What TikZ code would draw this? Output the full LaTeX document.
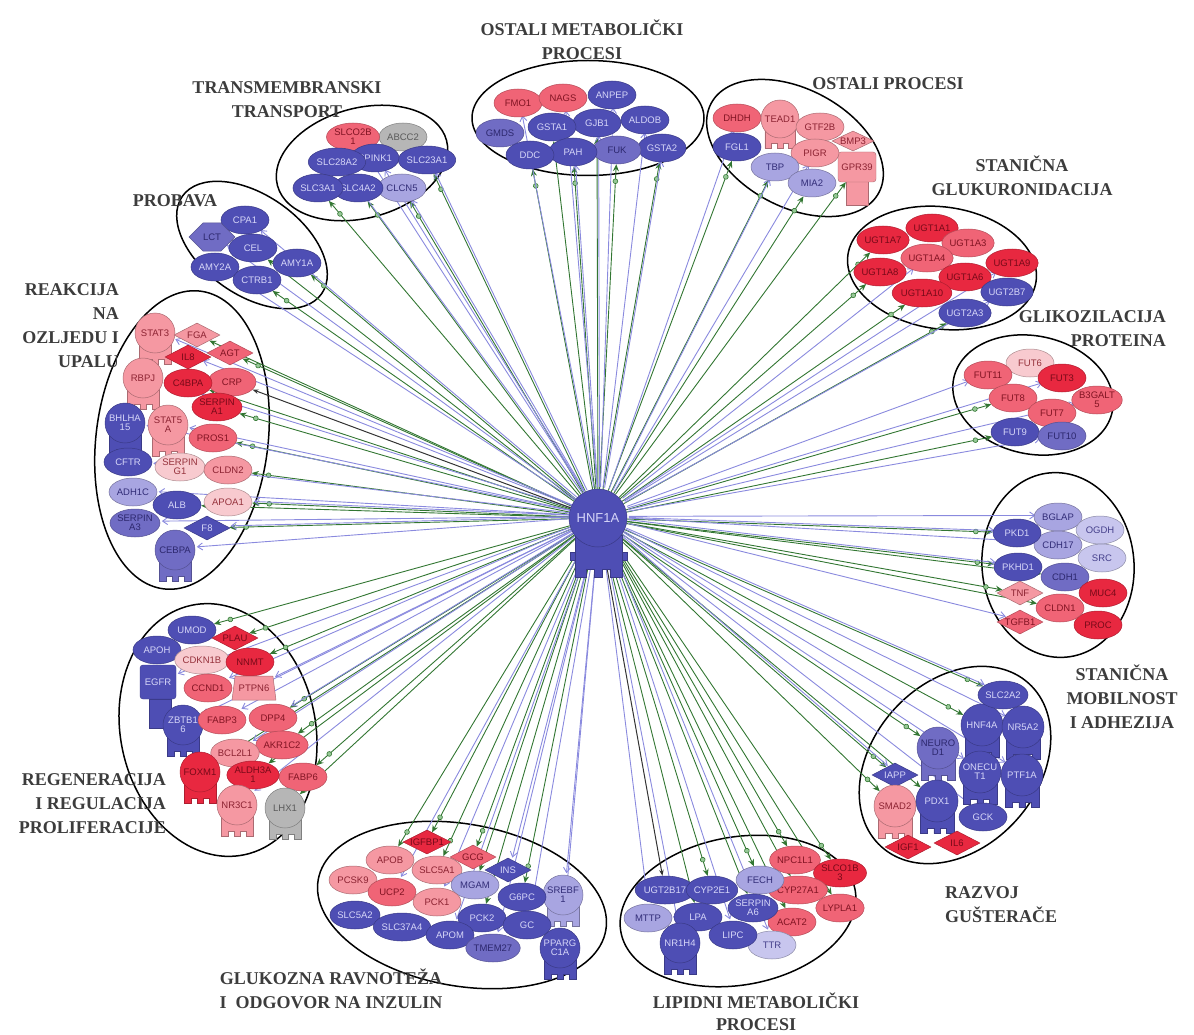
\documentclass[tikz,border=0pt]{standalone}
\usepackage{fontspec}
\setmainfont{Liberation Serif}
\setsansfont{Liberation Sans}
\usetikzlibrary{shapes.geometric, shapes.symbols, arrows.meta, decorations.markings}
\pgfdeclarelayer{background}
\pgfsetlayers{background,main}

\definecolor{cDk}{RGB}{78,78,180}
\definecolor{cDkT}{RGB}{214,214,248}
\definecolor{cMd}{RGB}{112,108,196}
\definecolor{cMdT}{RGB}{45,40,110}
\definecolor{cLv}{RGB}{168,165,225}
\definecolor{cLvT}{RGB}{50,45,120}
\definecolor{cLw}{RGB}{200,198,238}
\definecolor{cLwT}{RGB}{70,65,140}
\definecolor{cRd}{RGB}{232,40,64}
\definecolor{cRdT}{RGB}{120,10,25}
\definecolor{cSa}{RGB}{240,100,118}
\definecolor{cSaT}{RGB}{130,20,35}
\definecolor{cPk}{RGB}{245,152,162}
\definecolor{cPkT}{RGB}{140,35,50}
\definecolor{cLp}{RGB}{248,202,207}
\definecolor{cLpT}{RGB}{150,50,60}
\definecolor{cGy}{RGB}{182,182,182}
\definecolor{cGyT}{RGB}{90,90,90}
\definecolor{cGreen}{RGB}{50,118,50}
\definecolor{cGreenL}{RGB}{150,200,150}
\definecolor{cEdgeB}{RGB}{138,138,222}
\definecolor{cTitle}{RGB}{60,60,60}

\newcommand{\genefont}{\sffamily\fontsize{9.5}{9}\selectfont}
\tikzset{
  gene/.style={ellipse, minimum width=48, minimum height=28, inner sep=0pt,
    line width=0.5pt, font=\genefont, align=center},
  dia/.style={diamond, aspect=2.1, minimum width=46, minimum height=24,
    inner sep=0pt, line width=0.5pt, font=\genefont, align=center},
  tfhead/.style={circle, inner sep=0pt, line width=0.5pt, font=\genefont, align=center},
  dk/.style={fill=cDk, draw=cDk!75!black, text=cDkT},
  md/.style={fill=cMd, draw=cMd!75!black, text=cMdT},
  lv/.style={fill=cLv, draw=cLv!70!black, text=cLvT},
  lw/.style={fill=cLw, draw=cLw!70!black, text=cLwT},
  rd/.style={fill=cRd, draw=cRd!75!black, text=cRdT},
  sa/.style={fill=cSa, draw=cSa!75!black, text=cSaT},
  pk/.style={fill=cPk, draw=cPk!70!black, text=cPkT},
  lp/.style={fill=cLp, draw=cLp!70!black, text=cLpT},
  gy/.style={fill=cGy, draw=cGy!70!black, text=cGyT},
  cluster/.style={ellipse, draw=black, line width=1.5pt, inner sep=0pt},
  title/.style={font=\bfseries\fontsize{18}{24}\selectfont, text=cTitle,
    align=center, inner sep=0pt},
  gedge/.style={draw=cGreen, line width=0.9pt, -{Stealth[length=7pt,width=6pt]},
    postaction={decorate},
    decoration={markings, mark=at position -17pt with
      {\draw[cGreen, fill=cGreenL, line width=0.6pt] (0,0) circle (2.4pt);}}},
  bedge/.style={draw=cEdgeB, line width=0.9pt, -{Straight Barb[length=5pt,width=7pt]},
    transform canvas={shift={(1.6pt,1.6pt)}}},
  dedge/.style={draw=black!80, line width=1pt, -{Stealth[length=6pt]}}
}

% transcription regulator: round head with a notched foot
\newcommand{\tfgene}[5][20]{%
  \path[#4, shift={(#3)}] (-0.8*#1,0.4*#1) -- (-0.8*#1,1.55*#1) -- (-0.45*#1,1.55*#1)
    -- (-0.45*#1,1.3*#1) -- (-0.15*#1,1.3*#1) -- (-0.15*#1,1.55*#1) -- (0.15*#1,1.55*#1)
    -- (0.15*#1,1.3*#1) -- (0.45*#1,1.3*#1) -- (0.45*#1,1.55*#1) -- (0.8*#1,1.55*#1)
    -- (0.8*#1,0.4*#1) -- cycle;
  \node[tfhead, #4, minimum size=2*#1] (#2) at (#3) {#5};
}

\begin{document}
\begin{tikzpicture}[x=1pt, y=-1pt]
\useasboundingbox (0,0) rectangle (1194,1035);

% titles
\node[title] (t-tm) at (287,100) {TRANSMEMBRANSKI\\TRANSPORT};
\node[title] (t-om) at (582,40) {OSTALI METABOLIČKI\\PROCESI};
\node[title] (t-op) at (888,84) {OSTALI PROCESI};
\node[title] (t-gl) at (1022,176) {STANIČNA\\GLUKURONIDACIJA};
\node[title, align=right, anchor=east] (t-gp) at (1166,329) {GLIKOZILACIJA\\PROTEINA};
\node[title] (t-mob) at (1122,697) {STANIČNA\\MOBILNOST\\I ADHEZIJA};
\node[title, align=left, anchor=west] (t-raz) at (945,905) {RAZVOJ\\GUŠTERAČE};
\node[title, font=\bfseries\fontsize{18}{22}\selectfont] (t-lip) at (756,1012) {LIPIDNI METABOLIČKI\\PROCESI};
\node[title] (t-glu) at (331,989) {GLUKOZNA RAVNOTEŽA\\I\ \ ODGOVOR NA INZULIN};
\node[title, align=right, anchor=east] (t-reg) at (166,804) {REGENERACIJA\\I REGULACIJA\\PROLIFERACIJE};
\node[title, align=right, anchor=east] (t-rea) at (119,326) {REAKCIJA\\NA\\OZLJEDU I\\UPALU};
\node[title] (t-pro) at (175,201) {PROBAVA};

% hub
\path[dk] (575,535) -- (575,577) -- (586,577) -- (586,569) -- (594,569) -- (594,577)
  -- (602,577) -- (602,569) -- (610,569) -- (610,577) -- (622,577) -- (622,535) -- cycle;
\path[dk] (570,552) rectangle (575,560) (622,552) rectangle (627,560);
\node[tfhead, dk, minimum size=58, font=\sffamily\fontsize{13}{13}\selectfont] (hnf) at (598,518) {HNF1A};

% probava
\node[gene,dk] (CPA1) at (245,220) {CPA1};
\node[gene,md,signal,signal to=west and east,minimum width=44,minimum height=28] (LCT) at (212,237) {LCT};
\node[gene,dk] (AMY2A) at (215,267) {AMY2A};
\node[gene,dk] (AMY1A) at (297,263) {AMY1A};
\node[gene,dk] (CTRB1) at (257,280) {CTRB1};
\node[gene,dk] (CEL) at (253,248) {CEL};

% transmembranski transport
\node[gene,gy] (ABCC2) at (403,137) {ABCC2};
\node[gene,sa] (SLCO2B1) at (353,137) {SLCO2B\\1};
\node[gene,dk] (SLC23A1) at (427,160) {SLC23A1};
\node[gene,dk] (SPINK1) at (375,158) {SPINK1};
\node[gene,dk] (SLC28A2) at (337,162) {SLC28A2};
\node[gene,lv] (CLCN5) at (402,188) {CLCN5};
\node[gene,dk] (SLC4A2) at (358,188) {SLC4A2};
\node[gene,dk] (SLC3A1) at (318,188) {SLC3A1};

% ostali metabolicki procesi
\node[gene,sa] (FMO1) at (518,103) {FMO1};
\node[gene,sa] (NAGS) at (563,98) {NAGS};
\node[gene,dk] (ANPEP) at (612,95) {ANPEP};
\node[gene,dk] (ALDOB) at (645,120) {ALDOB};
\node[gene,dk] (GJB1) at (597,123) {GJB1};
\node[gene,dk] (GSTA1) at (552,127) {GSTA1};
\node[gene,md] (GMDS) at (500,133) {GMDS};
\node[gene,dk] (GSTA2) at (662,148) {GSTA2};
\node[gene,md] (FUK) at (617,150) {FUK};
\node[gene,dk] (PAH) at (573,152) {PAH};
\node[gene,dk] (DDC) at (530,155) {DDC};

% ostali procesi
\node[gene,sa] (DHDH) at (737,118) {DHDH};
\node[gene,dk] (FGL1) at (737,147) {FGL1};
\tfgene[19]{TEAD1}{780,119}{pk}{TEAD1}
\node[gene,pk] (GTF2B) at (820,127) {GTF2B};
\path[pk] (846,180) rectangle (868,205);
\node[pk, rectangle, rounded corners=3pt, minimum width=38, minimum height=30,
  inner sep=0pt, font=\genefont] (GPR39) at (857,167) {GPR39};
\node[dia, pk, minimum width=42, minimum height=20] (BMP3) at (853,141) {BMP3};
\node[gene,pk] (PIGR) at (815,153) {PIGR};
\node[gene,lv] (TBP) at (775,167) {TBP};
\node[gene,lv] (MIA2) at (812,183) {MIA2};

% stanicna glukuronidacija
\node[gene,rd] (UGT1A1) at (932,228) {UGT1A1};
\node[gene,rd] (UGT1A7) at (883,240) {UGT1A7};
\node[gene,sa] (UGT1A3) at (968,243) {UGT1A3};
\node[gene,rd] (UGT1A9) at (1012,263) {UGT1A9};
\node[gene,sa] (UGT1A4) at (927,258) {UGT1A4};
\node[gene,rd] (UGT1A8) at (880,272) {UGT1A8};
\node[gene,rd] (UGT1A6) at (965,277) {UGT1A6};
\node[gene,rd] (UGT1A10) at (922,293) {UGT1A10};
\node[gene,dk] (UGT2B7) at (1007,292) {UGT2B7};
\node[gene,dk] (UGT2A3) at (965,313) {UGT2A3};

% glikozilacija proteina
\node[gene,lp] (FUT6) at (1030,363) {FUT6};
\node[gene,sa] (FUT11) at (988,375) {FUT11};
\node[gene,rd] (FUT3) at (1062,378) {FUT3};
\node[gene,sa] (B3GALT5) at (1097,400) {B3GALT\\5};
\node[gene,sa] (FUT8) at (1013,398) {FUT8};
\node[gene,sa] (FUT7) at (1052,413) {FUT7};
\node[gene,dk] (FUT9) at (1015,432) {FUT9};
\node[gene,md] (FUT10) at (1062,436) {FUT10};

% stanicna mobilnost i adhezija
\node[gene,lv] (BGLAP) at (1058,517) {BGLAP};
\node[gene,lw] (OGDH) at (1100,530) {OGDH};
\node[gene,lv] (CDH17) at (1058,545) {CDH17};
\node[gene,dk] (PKD1) at (1017,533) {PKD1};
\node[gene,lw] (SRC) at (1102,558) {SRC};
\node[gene,md] (CDH1) at (1065,577) {CDH1};
\node[gene,dk] (PKHD1) at (1018,567) {PKHD1};
\node[dia,pk] (TNF) at (1020,593) {TNF};
\node[gene,rd] (MUC4) at (1103,593) {MUC4};
\node[gene,rd] (PROC) at (1098,625) {PROC};
\node[gene,sa] (CLDN1) at (1060,608) {CLDN1};
\node[dia,sa] (TGFB1) at (1020,622) {TGFB1};

% razvoj gusterace
\tfgene[21]{HNF4A}{982,725}{dk}{HNF4A}
\tfgene[21]{NR5A2}{1023,727}{dk}{NR5A2}
\node[gene,dk] (SLC2A2) at (1003,695) {SLC2A2};
\tfgene[21]{NEUROD1}{938,748}{md}{NEURO\\D1}
\tfgene[21]{ONECUT1}{980,772}{dk}{ONECU\\T1}
\tfgene[21]{PTF1A}{1022,775}{dk}{PTF1A}
\node[dia,dk] (IAPP) at (895,775) {IAPP};
\tfgene[21]{SMAD2}{895,806}{pk}{SMAD2}
\tfgene[21]{PDX1}{937,801}{dk}{PDX1}
\node[gene,dk] (GCK) at (983,817) {GCK};
\node[dia,rd] (IGF1) at (908,847) {IGF1};
\node[dia,rd] (IL6) at (957,843) {IL6};

% lipidni metabolicki procesi
\node[gene,sa] (NPC1L1) at (795,860) {NPC1L1};
\node[gene,rd] (SLCO1B3) at (840,873) {SLCO1B\\3};
\node[gene,sa] (CYP27A1) at (798,890) {CYP27A1};
\node[gene,sa] (LYPLA1) at (840,908) {LYPLA1};
\node[gene,sa] (ACAT2) at (792,922) {ACAT2};
\node[gene,lv] (FECH) at (760,880) {FECH};
\node[gene,dk] (UGT2B17) at (665,890) {UGT2B17};
\node[gene,dk] (CYP2E1) at (712,890) {CYP2E1};
\node[gene,dk] (SERPINA6) at (753,908) {SERPIN\\A6};
\node[gene,lv] (MTTP) at (648,918) {MTTP};
\node[gene,dk] (LPA) at (698,917) {LPA};
\node[gene,lw] (TTR) at (772,945) {TTR};
\node[gene,dk] (LIPC) at (733,935) {LIPC};
\tfgene{NR1H4}{680,943}{dk}{NR1H4}

% glukozna ravnoteza i odgovor na inzulin
\node[dia,rd] (IGFBP1) at (427,842) {IGFBP1};
\node[gene,pk] (APOB) at (390,860) {APOB};
\node[dia,sa] (GCG) at (473,857) {GCG};
\node[gene,pk] (PCSK9) at (353,880) {PCSK9};
\node[gene,pk] (SLC5A1) at (437,870) {SLC5A1};
\node[dia,dk] (INS) at (508,870) {INS};
\node[gene,sa] (UCP2) at (392,892) {UCP2};
\node[gene,lv] (MGAM) at (475,885) {MGAM};
\tfgene{SREBF1}{563,895}{lv}{SREBF\\1}
\node[gene,dk] (G6PC) at (522,897) {G6PC};
\node[gene,pk] (PCK1) at (437,902) {PCK1};
\node[gene,dk] (SLC5A2) at (355,915) {SLC5A2};
\node[gene,dk] (SLC37A4) at (402,927) {SLC37A4};
\node[gene,dk] (PCK2) at (482,918) {PCK2};
\node[gene,dk] (GC) at (527,925) {GC};
\node[gene,dk] (APOM) at (450,935) {APOM};
\node[gene,md] (TMEM27) at (493,948) {TMEM27};
\tfgene{PPARGC1A}{560,948}{dk}{PPARG\\C1A}

% regeneracija i regulacija proliferacije
\node[gene,dk] (UMOD) at (192,630) {UMOD};
\node[gene,dk] (APOH) at (157,650) {APOH};
\path[dk] (149,699) rectangle (171,728);
\node[dk, rectangle, rounded corners=3pt, minimum width=36, minimum height=34,
  inner sep=0pt, font=\genefont] (EGFR) at (158,682) {EGFR};
\node[gene,lp] (CDKN1B) at (202,660) {CDKN1B};
\node[dia,rd] (PLAU) at (235,638) {PLAU};
\node[gene,rd] (NNMT) at (250,662) {NNMT};
\node[gene,sa] (CCND1) at (208,688) {CCND1};
\node[pk, trapezium, trapezium angle=70, trapezium stretches=true, minimum width=44,
  minimum height=24, inner sep=0pt, line width=0.5pt, font=\genefont] (PTPN6) at (254,688) {PTPN6};
\tfgene{ZBTB16}{183,725}{dk}{ZBTB1\\6}
\node[gene,sa] (DPP4) at (273,718) {DPP4};
\node[gene,sa] (FABP3) at (222,720) {FABP3};
\node[gene,sa] (AKR1C2) at (282,745) {AKR1C2};
\node[gene,pk] (BCL2L1) at (235,753) {BCL2L1};
\tfgene{FOXM1}{200,772}{rd}{FOXM1}
\node[gene,sa] (FABP6) at (303,777) {FABP6};
\node[gene,rd] (ALDH3A1) at (253,775) {ALDH3A\\1};
\tfgene{NR3C1}{237,805}{pk}{NR3C1}
\tfgene{LHX1}{285,808}{gy}{LHX1}

% reakcija na ozljedu i upalu
\tfgene{STAT3}{155,333}{pk}{STAT3}
\node[dia,pk] (FGA) at (197,335) {FGA};
\node[dia,sa] (AGT) at (230,353) {AGT};
\node[dia,rd] (IL8) at (188,357) {IL8};
\tfgene{RBPJ}{143,378}{pk}{RBPJ}
\node[gene,sa] (CRP) at (232,382) {CRP};
\node[gene,rd] (C4BPA) at (188,383) {C4BPA};
\node[gene,rd] (SERPINA1) at (217,407) {SERPIN\\A1};
\tfgene{BHLHA15}{125,423}{dk}{BHLHA\\15}
\tfgene{STAT5A}{168,425}{pk}{STAT5\\A}
\node[gene,sa] (PROS1) at (213,438) {PROS1};
\node[gene,dk] (CFTR) at (128,462) {CFTR};
\node[gene,lp] (SERPING1) at (180,467) {SERPIN\\G1};
\node[gene,pk] (CLDN2) at (228,470) {CLDN2};
\node[gene,lv] (ADH1C) at (133,492) {ADH1C};
\node[gene,lp] (APOA1) at (228,502) {APOA1};
\node[gene,dk] (ALB) at (177,505) {ALB};
\node[gene,md] (SERPINA3) at (135,523) {SERPIN\\A3};
\node[dia,dk] (F8) at (207,528) {F8};
\tfgene{CEBPA}{175,550}{md}{CEBPA}

\begin{pgfonlayer}{background}
  % cluster outlines
  \node[cluster, minimum width=175, minimum height=110, rotate=15] (cl-tm) at (362,163) {};
  \node[cluster, minimum width=232, minimum height=115] (cl-om) at (588,118) {};
  \node[cluster, minimum width=190, minimum height=118, rotate=-28] (cl-op) at (795,148) {};
  \node[cluster, minimum width=190, minimum height=122, rotate=-8] (cl-gl) at (942,268) {};
  \node[cluster, minimum width=162, minimum height=118, rotate=-12] (cl-gp) at (1033,395) {};
  \node[cluster, minimum width=185, minimum height=152, rotate=95] (cl-mob) at (1058,565) {};
  \node[cluster, minimum width=220, minimum height=165, rotate=48] (cl-raz) at (955,765) {};
  \node[cluster, minimum width=238, minimum height=148, rotate=10] (cl-lip) at (738,911) {};
  \node[cluster, minimum width=292, minimum height=162, rotate=-10] (cl-glu) at (462,905) {};
  \node[cluster, minimum width=255, minimum height=195, rotate=102] (cl-reg) at (218,730) {};
  \node[cluster, minimum width=300, minimum height=172, rotate=83] (cl-rea) at (182,440) {};
  \node[cluster, minimum width=170, minimum height=100, rotate=-35] (cl-pro) at (252,245) {};
  % regulation edges
  \foreach \g in {SLC3A1,SLC4A2,CLCN5,SLC23A1,DDC,PAH,FUK,GSTA2,GSTA1,GJB1,FGL1,TBP,MIA2,GPR39,
      UGT1A8,UGT1A10,UGT2A3,UGT1A7,FUT8,FUT9,PKD1,PKHD1,TNF,CLDN1,CDH1,HNF4A,NEUROD1,
      PDX1,SMAD2,IAPP,SLC2A2,NPC1L1,SLCO1B3,CYP27A1,FECH,CYP2E1,LPA,SERPINA6,LYPLA1,ACAT2,
      IGFBP1,GCG,SLC5A1,APOB,G6PC,MGAM,PCK2,FOXM1,ALDH3A1,AKR1C2,DPP4,NNMT,PLAU,UMOD,
      LHX1,FABP6,SERPINA1,PROS1,CLDN2,APOA1,F8,ALB,C4BPA,FGA,AGT,CTRB1,AMY1A,CEL}
    \draw[gedge] (hnf) -- (\g);
  \foreach \g in {SLC28A2,SPINK1,SLCO2B1,SLC23A1,GJB1,ALDOB,PAH,GSTA2,DHDH,TBP,PIGR,
      UGT1A4,UGT2B7,UGT1A6,UGT1A9,FUT11,FUT10,FUT3,B3GALT5,BGLAP,PKD1,PKHD1,CDH17,TGFB1,
      SLC2A2,NR5A2,ONECUT1,PTF1A,GCK,IAPP,TTR,LIPC,MTTP,NR1H4,SREBF1,PPARGC1A,GC,INS,
      TMEM27,APOM,PCK1,UCP2,CCND1,PTPN6,FABP3,BCL2L1,NR3C1,ZBTB16,EGFR,DPP4,CEBPA,
      SERPINA3,ADH1C,CFTR,STAT5A,BHLHA15,IL8,RBPJ,STAT3,APOA1,F8,AMY2A,CPA1,LCT,
      FMO1,NAGS,ANPEP,CLCN5}
    \draw[bedge] (hnf) -- (\g);
  \draw[dedge] (hnf) -- (CRP);
  \draw[dedge] (hnf) -- (UGT2B17);
\end{pgfonlayer}
\end{tikzpicture}
\end{document}
